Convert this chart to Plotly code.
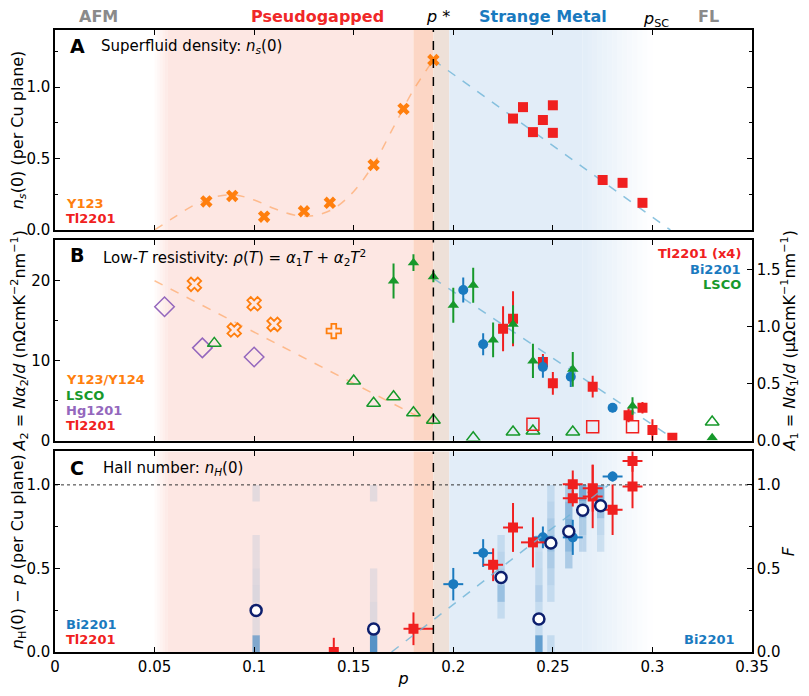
import plotly.graph_objects as go

# ---------------- DATA ----------------
# Panel A: superfluid density
a_y123_p = [0.076, 0.089, 0.105, 0.125, 0.138, 0.160, 0.175, 0.190]
a_y123_v = [0.20, 0.238, 0.093, 0.131, 0.19, 0.455, 0.848, 1.19]
a_tl_p = [0.230, 0.235, 0.240, 0.245, 0.250, 0.250, 0.275, 0.285, 0.295]
a_tl_v = [0.78, 0.86, 0.685, 0.77, 0.873, 0.68, 0.35, 0.33, 0.19]
a_fit_orange_p = [0.05, 0.06, 0.07, 0.08, 0.09, 0.10, 0.11, 0.12, 0.13, 0.14, 0.15, 0.16, 0.17, 0.18, 0.19]
a_fit_orange_v = [0.0, 0.09, 0.175, 0.23, 0.245, 0.21, 0.15, 0.105, 0.10, 0.15, 0.27, 0.46, 0.72, 0.98, 1.19]
a_fit_blue_p = [0.19, 0.309]
a_fit_blue_v = [1.19, 0.0]

# Panel B: A2 (left axis, open symbols)
b_y123_p = [0.070, 0.090, 0.100, 0.110]
b_y123_v = [19.55, 13.83, 17.12, 14.54]
b_y124_p = [0.140]
b_y124_v = [13.7]
b_hg_p = [0.055, 0.074, 0.100]
b_hg_v = [16.75, 11.6, 10.45]
b_lsco2_p = [0.080, 0.150, 0.160, 0.170, 0.180, 0.190, 0.210, 0.230, 0.240, 0.260, 0.330]
b_lsco2_v = [12.16, 7.45, 4.66, 5.48, 3.48, 2.53, 0.35, 1.06, 1.19, 1.06, 2.32]
b_tl2_p = [0.240, 0.270, 0.290]
b_tl2_v = [2.03, 1.73, 1.73]
b_fit_orange_p = [0.05, 0.19]
b_fit_orange_v = [20.0, 2.0]
# Panel B: A1 (right axis, filled symbols)
b_lsco1_p = [0.170, 0.180, 0.190, 0.200, 0.210, 0.220, 0.230, 0.240, 0.260, 0.290, 0.330]
b_lsco1_v = [1.398, 1.558, 1.436, 1.185, 1.360, 0.881, 1.018, 0.697, 0.624, 0.302, 0.025]
b_lsco1_e = [0.153, 0.073, 0.05, 0.153, 0.153, 0.152, 0.168, 0.15, 0.152, 0.077, 0.0]
b_bi_p = [0.205, 0.215, 0.245, 0.259, 0.280]
b_bi_v = [1.319, 0.843, 0.644, 0.559, 0.287]
b_bi_e = [0.11, 0.096, 0.095, 0.09, 0.04]
b_tl1_p = [0.225, 0.230, 0.245, 0.250, 0.270, 0.288, 0.295, 0.300, 0.310]
b_tl1_v = [0.980, 1.067, 0.688, 0.501, 0.472, 0.221, 0.287, 0.092, 0.025]
b_tl1_e = [0.197, 0.241, 0.07, 0.10, 0.095, 0.06, 0.05, 0.095, 0.0]
b_fit_blue_p = [0.19, 0.312]
b_fit_blue_v = [1.42, 0.0]

# Panel C: Hall number
c_bi_p = [0.200, 0.215, 0.245, 0.260, 0.280]
c_bi_v = [0.406, 0.592, 0.686, 0.686, 1.05]
c_bi_ey = [0.097, 0.083, 0.065, 0.105, 0.03]
c_bi_ex = [0.005, 0.005, 0.005, 0.005, 0.005]
c_tl_p = [0.140, 0.180, 0.220, 0.230, 0.240, 0.260, 0.260, 0.270, 0.270, 0.280, 0.290, 0.290]
c_tl_v = [0.0, 0.139, 0.522, 0.745, 0.656, 1.004, 0.920, 0.980, 0.931, 0.851, 1.143, 0.990]
c_tl_ey = [0.085, 0.098, 0.098, 0.146, 0.15, 0.082, 0.05, 0.14, 0.19, 0.151, 0.065, 0.13]
c_tl_ex_plus = [0.0, 0.010, 0.005, 0.005, 0.006, 0.005, 0.007, 0.005, 0.005, 0.005, 0.005, 0.005]
c_tl_ex_minus = [0.0, 0.005, 0.005, 0.005, 0.006, 0.005, 0.005, 0.005, 0.005, 0.005, 0.005, 0.005]
c_F_p = [0.101, 0.160, 0.224, 0.243, 0.249, 0.258, 0.265, 0.274]
c_F_v = [0.249, 0.137, 0.446, 0.197, 0.652, 0.721, 0.849, 0.875]
c_fit_blue_p = [0.169, 0.278]
c_fit_blue_v = [0.0, 1.0]
stripe_p = [0.101, 0.160, 0.224, 0.243, 0.249, 0.258, 0.265, 0.274]
stripe_bins = [0.0, 0.1, 0.2, 0.3, 0.4, 0.5, 0.6, 0.7, 0.8, 0.9]
stripe_alpha = [
    [0.60, 0.12, 0.12, 0.16, 0.14, 0.11, 0.11, 0.0, 0.0, 0.12],
    [0.80, 0.14, 0.14, 0.11, 0.11, 0.0, 0.0, 0.0, 0.0, 0.12],
    [0.0, 0.0, 0.16, 0.40, 0.30, 0.22, 0.16, 0.0, 0.0, 0.0],
    [0.70, 0.16, 0.16, 0.26, 0.18, 0.16, 0.13, 0.0, 0.0, 0.0],
    [0.16, 0.0, 0.0, 0.16, 0.22, 0.30, 0.40, 0.30, 0.22, 0.16],
    [0.0, 0.0, 0.0, 0.0, 0.0, 0.30, 0.45, 0.55, 0.45, 0.30],
    [0.0, 0.0, 0.0, 0.0, 0.0, 0.0, 0.22, 0.30, 0.45, 0.60],
    [0.0, 0.0, 0.0, 0.0, 0.0, 0.0, 0.16, 0.22, 0.40, 0.55],
]

x_ticks = [0, 0.05, 0.1, 0.15, 0.2, 0.25, 0.3, 0.35]
x_ticktext = ["0", "0.05", "0.1", "0.15", "0.2", "0.25", "0.3", "0.35"]

# ---------------- STYLE ----------------
ORANGE = "#ff7f0e"
RED = "#f02020"
BLUE = "#1a7abf"
GREEN = "#17992b"
PURPLE = "#9467bd"
NAVY = "#0d1f6e"
GRAY = "#8a8a8a"
FONT = "DejaVu Sans"

fig = go.Figure()


def add(x, y, xa, ya, symbol, size, color, lw=0, ey=None, ex=None, exm=None,
        fill=None, linecolor=None):
    kw = dict(x=x, y=y, xaxis=xa, yaxis=ya, mode="markers", hoverinfo="skip",
              marker=dict(symbol=symbol, size=size, color=fill or color,
                          line=dict(width=lw, color=linecolor or color)))
    if ey is not None:
        kw["error_y"] = dict(type="data", array=ey, color=color, thickness=2, width=0)
    if ex is not None:
        d = dict(type="data", array=ex, color=color, thickness=2, width=0)
        if exm is not None:
            d["symmetric"] = False
            d["arrayminus"] = exm
        kw["error_x"] = d
    fig.add_trace(go.Scatter(**kw))


def line(x, y, xa, ya, color, dash="dash", width=1.5, shape="linear"):
    fig.add_trace(go.Scatter(x=x, y=y, xaxis=xa, yaxis=ya, mode="lines", hoverinfo="skip",
                             line=dict(color=color, dash=dash, width=width, shape=shape)))


# ---- stripes (panel C) ----
for sp, alphas in zip(stripe_p, stripe_alpha):
    bases = [b for b, a in zip(stripe_bins, alphas) if a > 0]
    cols = ["rgba(45,125,190,%.2f)" % a for a in alphas if a > 0]
    fig.add_trace(go.Bar(x=[sp] * len(bases), y=[0.1] * len(bases), base=bases, width=0.0037,
                         xaxis="x3", yaxis="y4", hoverinfo="skip",
                         marker=dict(color=cols, line=dict(width=0))))

# ---- Panel A ----
line(a_fit_orange_p, a_fit_orange_v, "x", "y", "rgba(255,150,70,0.55)", shape="spline")
line(a_fit_blue_p, a_fit_blue_v, "x", "y", "rgba(110,180,215,0.8)")
add(a_y123_p, a_y123_v, "x", "y", "x", 11, ORANGE)
add(a_tl_p, a_tl_v, "x", "y", "square", 10, RED)

# ---- Panel B ----
line(b_fit_orange_p, b_fit_orange_v, "x2", "y2", "rgba(255,150,70,0.55)")
line(b_fit_blue_p, b_fit_blue_v, "x2", "y3", "rgba(110,180,215,0.8)")
add(b_hg_p, b_hg_v, "x2", "y2", "diamond-open", 15, PURPLE, lw=1.5)
add(b_y123_p, b_y123_v, "x2", "y2", "x-open", 12, ORANGE, lw=1.8)
add(b_y124_p, b_y124_v, "x2", "y2", "cross-open", 12, ORANGE, lw=1.8)
add(b_lsco2_p, b_lsco2_v, "x2", "y2", "triangle-up-open", 12, GREEN, lw=1.5)
add(b_tl2_p, b_tl2_v, "x2", "y2", "square-open", 12, RED, lw=1.5)
add(b_tl1_p, b_tl1_v, "x2", "y3", "square", 10, RED, ey=b_tl1_e)
add(b_bi_p, b_bi_v, "x2", "y3", "circle", 10, BLUE, ey=b_bi_e)
add(b_lsco1_p, b_lsco1_v, "x2", "y3", "triangle-up", 10, GREEN, ey=b_lsco1_e)

# ---- Panel C ----
line([0, 0.35], [1.0, 1.0], "x3", "y4", "#333333", dash="dot", width=1)
line(c_fit_blue_p, c_fit_blue_v, "x3", "y5", "rgba(110,180,215,0.8)")
add(c_bi_p, c_bi_v, "x3", "y4", "circle", 10, BLUE, ey=c_bi_ey, ex=c_bi_ex)
add(c_tl_p, c_tl_v, "x3", "y4", "square", 10, RED, ey=c_tl_ey, ex=c_tl_ex_plus, exm=c_tl_ex_minus)
add(c_F_p, c_F_v, "x3", "y5", "circle", 11, NAVY, lw=2.5, fill="white", linecolor=NAVY)

# ---------------- LAYOUT ----------------
# page body adds an 8px margin, so the figure is sized 793x680 to fill the 809x696 window
dA = [0.6785, 1.0]
dB = [0.340, 0.6624]
dC = [0.0, 0.3224]

ax_common = dict(showline=True, linecolor="black", linewidth=1.5, ticks="inside",
                 ticklen=5, tickwidth=1.2, tickcolor="black", showgrid=False, zeroline=False,
                 automargin=False, tickfont=dict(size=15, family=FONT))
minor_y = dict(ticks="inside", ticklen=3, tickcolor="black", tickwidth=1, showgrid=False)
TF = dict(size=16, family=FONT)

layout = dict(
    width=793, height=680, margin=dict(l=47, r=49, t=22, b=36),
    plot_bgcolor="white", paper_bgcolor="white", showlegend=False, barmode="overlay",
    font=dict(family=FONT, size=14, color="black"),
    xaxis=dict(ax_common, range=[0, 0.35], tickvals=x_ticks, showticklabels=False,
               anchor="y", mirror="ticks"),
    xaxis2=dict(ax_common, range=[0, 0.35], tickvals=x_ticks, showticklabels=False,
                anchor="y2", mirror="ticks", matches="x"),
    xaxis3=dict(ax_common, range=[0, 0.35], tickvals=x_ticks, ticktext=x_ticktext,
                anchor="y4", mirror="ticks", matches="x",
                title=dict(text="<i>p</i>", font=TF, standoff=4)),
    yaxis=dict(ax_common, domain=dA, range=[0, 1.4], tickvals=[0, 0.5, 1.0],
               ticktext=["0.0", "0.5", "1.0"], anchor="x", mirror="ticks",
               minor=dict(minor_y, tickvals=[0.25, 0.75, 1.25]),
               title=dict(text="<i>n</i><sub><i>s</i></sub>(0) (per Cu plane)",
                          font=TF, standoff=3)),
    yaxis2=dict(ax_common, domain=dB, range=[0, 25.1], tickvals=[0, 10, 20],
                anchor="x2", mirror=False,
                minor=dict(minor_y, tickvals=[5, 15]),
                title=dict(text="<i>A</i><sub>2</sub> = <i>Nα</i><sub>2</sub>/<i>d</i> (nΩcmK<sup>−2</sup>nm<sup>−1</sup>)",
                           font=TF, standoff=3)),
    yaxis3=dict(ax_common, domain=dB, range=[0, 1.757], tickvals=[0, 0.5, 1.0, 1.5],
                ticktext=["0.0", "0.5", "1.0", "1.5"], anchor="x2", overlaying="y2",
                side="right",
                title=dict(text="<i>A</i><sub>1</sub> = <i>Nα</i><sub>1</sub>/<i>d</i> (μΩcmK<sup>−1</sup>nm<sup>−1</sup>)",
                           font=TF, standoff=3)),
    yaxis4=dict(ax_common, domain=dC, range=[0, 1.2], tickvals=[0, 0.5, 1.0],
                ticktext=["0.0", "0.5", "1.0"], anchor="x3", mirror=False,
                minor=dict(minor_y, tickvals=[0.25, 0.75]),
                title=dict(text="<i>n</i><sub>H</sub>(0) − <i>p</i> (per Cu plane)",
                           font=TF, standoff=3)),
    yaxis5=dict(ax_common, domain=dC, range=[0, 1.2], tickvals=[0, 0.5, 1.0],
                ticktext=["0.0", "0.5", "1.0"], anchor="x3", overlaying="y4", side="right",
                minor=dict(minor_y, tickvals=[0.25, 0.75]),
                title=dict(text="<i>F</i>", font=TF, standoff=3)),
)
fig.update_layout(**layout)

# ---------------- SHADING ----------------
PINK = (253, 231, 227)
ORBAND = (252, 214, 197)
BRBAND = (238, 224, 216)
BLUEBG = (226, 237, 248)


def rgb(c):
    return "rgb(%d,%d,%d)" % c


def blend(c, t):
    return tuple(round(255 + (ci - 255) * t) for ci in c)


shapes = []
for xa, ya in [("x", "y"), ("x2", "y2"), ("x3", "y4")]:
    def rect(x0, x1, col):
        shapes.append(dict(type="rect", xref=xa, yref=ya + " domain", x0=x0, x1=x1, y0=0, y1=1,
                           fillcolor=rgb(col), line=dict(width=0), layer="below"))
    n = 5
    for i in range(n):
        x0 = 0.05 + i * 0.0013
        rect(x0, x0 + 0.0014, blend(PINK, (i + 1) / (n + 1)))
    rect(0.0565, 0.18, PINK)
    rect(0.18, 0.19, ORBAND)
    rect(0.19, 0.198, BRBAND)
    rect(0.198, 0.265, BLUEBG)
    m = 14
    for i in range(m):
        x0 = 0.265 + i * 0.0025
        rect(x0, x0 + 0.0026, blend(BLUEBG, 1 - (i + 0.5) / m))
    shapes.append(dict(type="line", xref=xa, yref=ya + " domain", x0=0.19, x1=0.19, y0=0, y1=1,
                       line=dict(color="black", width=1.5, dash="dash"), layer="above"))
fig.update_layout(shapes=shapes)

# ---------------- ANNOTATIONS ----------------
ann = []


def note(x, y, text, size=14, color="black", bold=False, xanchor="center", xref="x"):
    if bold:
        text = "<b>%s</b>" % text
    ann.append(dict(x=x, y=y, xref=xref, yref="paper", text=text, showarrow=False,
                    xanchor=xanchor, yanchor="middle",
                    font=dict(size=size, color=color, family=FONT)))


def py(px):
    return (652 - px) / 622.0


# header
HY = py(16)
note(0.0219, HY, "AFM", 16, GRAY, True)
note(0.1316, HY, "Pseudogapped", 16, "#f02828", True)
note(0.1924, HY, "<i>p</i> *", 16, "black")
note(0.2451, HY, "Strange Metal", 16, BLUE, True)
note(0.3019, py(19), "<i>p</i><sub>SC</sub>", 16, "black")
note(0.3280, HY, "FL", 16, GRAY, True)

# panel titles
note(0.0112, py(46), "A", 19, "black", True)
note(0.0219, py(47), "Superfluid density: <i>n</i><sub><i>s</i></sub>(0)", 15, xanchor="left")
note(0.0112, py(255), "B", 19, "black", True)
note(0.0230, py(257), "Low-<i>T</i> resistivity: <i>ρ</i>(<i>T</i>) = <i>α</i><sub>1</sub><i>T</i> + <i>α</i><sub>2</sub><i>T</i><sup>2</sup>", 15, xanchor="left")
note(0.0112, py(468), "C", 19, "black", True)
note(0.0230, py(469), "Hall number: <i>n</i><sub><i>H</i></sub>(0)", 15, xanchor="left")

# legends
LX = 0.0044
LS = 13
note(LX, py(203), "Y123", LS, ORANGE, True, "left")
note(LX, py(218), "Tl2201", LS, RED, True, "left")
note(LX, py(380), "Y123/Y124", LS, ORANGE, True, "left")
note(LX, py(395), "LSCO", LS, GREEN, True, "left")
note(LX, py(410), "Hg1201", LS, PURPLE, True, "left")
note(LX, py(425), "Tl2201", LS, RED, True, "left")
note(0.3455, py(254), "Tl2201 (x4)", LS, RED, True, "right")
note(0.3455, py(269), "Bi2201", LS, BLUE, True, "right")
note(0.3455, py(284), "LSCO", LS, GREEN, True, "right")
note(LX, py(624), "Bi2201", LS, BLUE, True, "left")
note(LX, py(639), "Tl2201", LS, RED, True, "left")
note(0.3424, py(639), "Bi2201", LS, BLUE, True, "right")

fig.update_layout(annotations=ann)
fig.write_html("out.html")
